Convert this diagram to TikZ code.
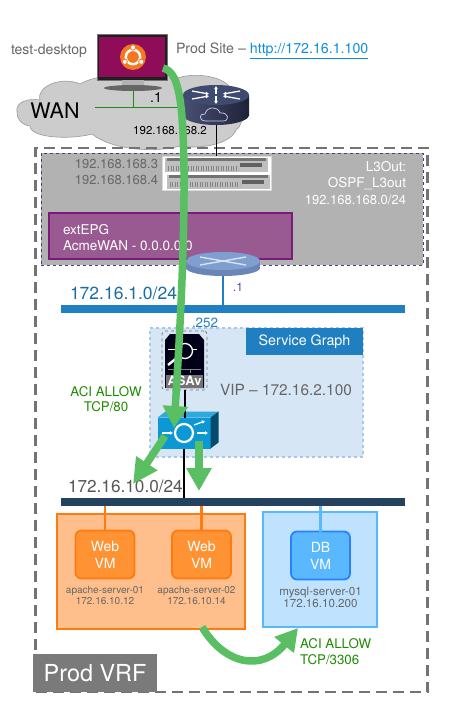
\documentclass[tikz,border=0pt]{standalone}
\usepackage{fontspec}
\setmainfont{TeX Gyre Heros}
\usepackage{xcolor}
\usetikzlibrary{arrows.meta,positioning,calc,shapes.geometric}
\definecolor{flowgreen}{HTML}{5ABF63}
\definecolor{txtgray}{HTML}{666666}
\definecolor{acigreen}{HTML}{1F8A00}
\definecolor{linkgreen}{HTML}{1C8C1C}
\definecolor{netblue}{HTML}{1F7FC0}
\definecolor{netdark}{HTML}{24415F}
\definecolor{lbblue}{HTML}{0B98D4}
\definecolor{webfill}{HTML}{FF9233}
\definecolor{webedge}{HTML}{FF7B10}
\definecolor{webbg}{HTML}{FFBF8C}
\definecolor{dbfill}{HTML}{5AB8FF}
\definecolor{dbedge}{HTML}{2A7FFF}
\definecolor{dbbg}{HTML}{BFE3FF}
\definecolor{svcbg}{HTML}{D6E6F5}
\definecolor{svcedge}{HTML}{A8C8E8}
\definecolor{epgfill}{HTML}{995A92}
\definecolor{epgedge}{HTML}{7A1A7A}
\definecolor{rtrtop}{HTML}{3F4A70}
\definecolor{rtrside}{HTML}{1E2238}
\definecolor{rtrmid}{HTML}{4A5072}
\definecolor{bdtop}{HTML}{7F9FD0}
\definecolor{bdside}{HTML}{6A86B6}
\newcommand{\fsz}[1]{\fontsize{#1}{#1}\selectfont}
\begin{document}
\begin{tikzpicture}[
  x=1pt,y=-1pt,
  every node/.style={inner sep=0pt,outer sep=0pt},
  rect/.style 2 args={rectangle,minimum width=#1pt,minimum height=#2pt},
  lbl/.style={font=\fsz{13},text=txtgray},
  wht/.style={font=\fsz{13.5},text=white},
  vmnode/.style={rectangle,rounded corners=6pt,line width=1.8pt,minimum width=59pt,minimum height=48pt,
    align=center,text=white,font=\fontsize{14}{17}\selectfont},
  vmtxt/.style={align=center,text=txtgray,font=\fontsize{10}{11}\selectfont},
  switchbox/.style={rectangle,fill=black!25,minimum width=103pt,minimum height=14pt},
  flow/.style={draw=flowgreen,line width=7.5pt},
  tip/.style={-{Triangle[length=#1pt,width=24pt]}},
  tick/.style={white,line width=1.3pt,-{Latex[length=3pt,width=4pt]}}
]
\useasboundingbox (0,0) rectangle (454,704);
% wan side
\path[fill=black!20,draw=black!40,line width=.6pt] (17,112) .. controls (15,102) and (28,98) .. (40,100)
  .. controls (36,86) and (62,76) .. (80,84) .. controls (100,72) and (165,68) .. (178,78)
  .. controls (195,72) and (225,76) .. (232,90) .. controls (245,100) and (245,125) .. (236,130)
  .. controls (232,142) and (205,150) .. (180,146) .. controls (160,152) and (115,152) .. (92,134)
  .. controls (70,140) and (30,138) .. (30,126) .. controls (22,125) and (17,120) .. (17,112) -- cycle;
\node[font=\fsz{21.5}] (wan) at (55,111) {WAN};
\node[rect={70}{46},fill=black!88,draw=black!55,line width=.5pt] (desk) at (132,57) {};
\node[rect={66}{40},fill={rgb,255:red,142;green,12;blue,88}] (screen) at (132,57) {};
\fill[black!30] (122,80) rectangle (144,85);
\node[ellipse,minimum width=58pt,minimum height=6pt,fill=black!60] (deskbase) at (133,88) {};
\node[circle,minimum size=26pt,fill={rgb,255:red,245;green,118;blue,31}] (ubuntu) at (133,57) {};
\draw[white,line width=2.4pt] (133,57) circle[radius=7.2pt];
\foreach \a in {90,210,330} \fill[white,draw={rgb,255:red,245;green,118;blue,31},line width=.8pt] ($(ubuntu.center)+(\a:9.5 and -9.5)$) circle[radius=2.6pt];
\node[rect={1}{1}] (wanlink) at (95,107) {};
\node[font=\fsz{14},text=txtgray,anchor=west] (deskname) at (11,51) {test-desktop};
\node[font=\fsz{14.2},text=txtgray,anchor=west,right=9pt of desk,yshift=6pt] (prodsite) {Prod Site -- \textcolor{cyan!75!blue}{\underline{http://172.16.1.100}}};
\node[font=\fsz{14},text=black] (wandot) at (156,98) {.1};
\draw[linkgreen,line width=1pt] (deskbase.south) -- (deskbase.south |- wanlink.center);
\draw[linkgreen,line width=1pt] (wanlink.center) -- (178,107);
\node[rect={66}{20},left color=rtrmid,right color=rtrside] (wanrtr) at (216,105) {};
\node[ellipse,minimum width=66pt,minimum height=20pt,left color=rtrmid,right color=rtrside] (wanrtrb) at (216,115) {};
\node[ellipse,minimum width=66pt,minimum height=20pt,fill=rtrtop] (wanrtrt) at (216,95) {};
\draw[tick] (192,91) -- (209,94);
\draw[tick] (240,91) -- (223,94);
\draw[tick] (192,99) -- (209,96);
\draw[tick] (240,99) -- (223,96);
\draw[tick] (216,94) -- (216,86);
\draw[tick] (216,96) -- (216,104);
\draw[white!80!blue,line width=.7pt] (206,121) .. controls (198,121) and (199,113) .. (205,114)
  .. controls (207,106) and (218,106) .. (220,113) .. controls (229,112) and (230,121) .. (223,121) -- cycle;
\node[font=\fsz{11.5}] (rtrip) at (170,131) {192.168.168.2};
% l3out
\node[rect={382}{112},fill=black!30,draw=black!45!blue!50!gray,dashed,line width=.8pt] (l3out) at (232,209) {};
\node[rect={392}{544},draw=black!55,line width=2.4pt,dash pattern=on 11pt off 6pt] (vrf) at (231.5,420) {};
\node[rect={109}{34},fill=white,draw=black!15,line width=.5pt] (leafs) at (216.5,173) {};
\node[switchbox] (leaf1) at (216.5,165) {};
\node[switchbox] (leaf2) at (218,181.5) {};
\foreach \n in {1,2} {
  \fill[black!55] ($(leaf\n.north west)+(2,0)$) rectangle ($(leaf\n.north east)+(-2,3)$);
  \draw[black!48,line width=5pt,dash pattern=on 1.3pt off 1.2pt] ($(leaf\n.west)+(3,3)$) -- ($(leaf\n.east)+(-30,3)$);
  \fill[black!62] ($(leaf\n.east)+(-28,-2)$) rectangle ($(leaf\n.east)+(-6,2)$);
}
\draw[black,line width=.9pt] (wanrtrb.south) -- (wanrtrb.south |- leafs.north);
\node[lbl,anchor=east] (leafip1) at (158,164) {192.168.168.3};
\node[lbl,below=7pt of leafip1.south east,anchor=north east] (leafip2) {192.168.168.4};
\node[wht,anchor=east,align=right,font=\fontsize{13.5}{16}\selectfont] (l3name) at (406,176) {L3Out:\\OSPF\_L3out};
\node[wht,anchor=east,font=\fsz{13}] (l3net) at (406,200) {192.168.168.0/24};
\node[rect={243}{46},fill=epgfill,draw=epgedge,line width=1.6pt] (extepg) at (170.5,236) {};
\node[wht,anchor=west,align=left,font=\fontsize{13.5}{16}\selectfont] (extname) at (63,238) {extEPG\\AcmeWAN - 0.0.0.0/0};
% fabric
\node[rect={74}{9},fill=bdside] (bdrtr) at (223,264) {};
\node[ellipse,minimum width=74pt,minimum height=16pt,fill=bdside] (bdrtrb) at (223,268) {};
\node[ellipse,minimum width=74pt,minimum height=18pt,fill=bdtop] (bdrtrt) at (223,261) {};
\draw[white!70!bdtop,line width=1.4pt] (200,257) -- (246,265) (200,265) -- (246,257);
\node[rect={344}{8},fill=netblue] (netweb) at (233,309) {};
\draw[netblue,line width=1.8pt] (bdrtrb.south) -- (bdrtrb.south |- netweb.north);
\node[font=\fsz{17.5},text=netblue!85!black,anchor=west] (netwebip) at (70,293) {172.16.1.0/24};
\node[font=\fsz{12},text=blue!40!gray] (bddot) at (238,287) {.1};
\node[rect={213}{129},fill=svcbg,draw=svcedge,dashed,line width=1.2pt] (svc) at (256.5,392.5) {};
\node[rect={117}{27},fill=netblue,text=white,font=\fsz{14.3},anchor=north east] (svchdr) at (svc.north east) {Service Graph};
\node[font=\fsz{13.4},text=netblue,anchor=west] (asaip) at (192,323) {.252};
\node[rect={45}{59},draw=black!55,dashed,line width=.7pt,rounded corners=3pt] (asabox) at (184.5,360.5) {};
\fill[black!90!blue] (170,334) -- (199,334) -- (204,340) -- (204,388) -- (165,388) -- (165,340) -- cycle;
\node[rect={37}{13},fill=black!55,text=white,font=\bfseries\fsz{13}] (asav) at (184.5,381) {ASAv};
\draw[white,line width=.7pt] (168,349) -- (197,349);
\draw[white,line width=1.3pt,fill=black!90!blue] (185,351) circle[radius=7.5pt];
\draw[white,line width=2.4pt] (178,357) -- (168,365);
\draw[black!50,line width=.5pt] (168,369) -- (201,369) (175,369) -- (175,373) (190,369) -- (190,373);
\node[font=\fsz{15.4},text=txtgray] (vip) at (286,390) {VIP -- 172.16.2.100};
\node[font=\fontsize{13.3}{15}\selectfont,text=acigreen,align=center] (allow80) at (106,399) {ACI ALLOW\\TCP/80};
\node[rect={344}{8},fill=netdark] (netdb) at (233,502) {};
\node[rect={53}{31},fill=lbblue] (lb) at (184,433) {};
\fill[lbblue!85!white] (lb.north west) -- ($(lb.north west)+(8,-6)$) -- ($(lb.north east)+(8,-6)$) -- (lb.north east) -- cycle;
\fill[lbblue!50!black] (lb.north east) -- ($(lb.north east)+(8,-6)$) -- ($(lb.south east)+(8,-6)$) -- (lb.south east) -- cycle;
\draw[white,line width=2.2pt] (lb.center) circle[radius=9pt];
\draw[tick] (162,433) -- (173,433);
\draw[tick] (197,433) -- (208,433);
\draw[tick] (194,425) -- (205,421);
\draw[black,line width=2pt] (asabox.south) -- (lb.north -| asabox.south);
\draw[black,line width=2pt] (lb.south) -- (lb.south |- netdb.north);
\node[font=\fsz{17.2},text=txtgray!85!black,anchor=west] (netdbip) at (68,486) {172.16.10.0/24};
% epgs
\node[rect={188}{115},fill=webbg,draw=webedge,line width=1.8pt] (webepg) at (151,571.5) {};
\node[rect={114}{115},fill=dbbg,draw=dbfill,line width=1.8pt] (dbepg) at (320,569.5) {};
\node[vmnode,fill=webfill,draw=webedge] (web1) at (105,554.5) {Web\\VM};
\node[vmnode,fill=webfill,draw=webedge,right=37.5pt of web1] (web2) {Web\\VM};
\node[vmnode,fill=dbfill,draw=dbedge] (db) at (320.5,555.5) {DB\\VM};
\draw[webedge,line width=2.2pt] (web1.north) -- (web1.north |- netdb.south);
\draw[webedge,line width=2.2pt] (web2.north) -- (web2.north |- netdb.south);
\draw[dbfill,line width=2.2pt] (db.north) -- (db.north |- netdb.south);
\node[vmtxt,below=8pt of web1] (web1txt) {apache-server-01\\172.16.10.12};
\node[vmtxt,below=8pt of web2,xshift=-5pt] (web2txt) {apache-server-02\\172.16.10.14};
\node[vmtxt,below=8pt of db,font=\fontsize{11.6}{11.5}\selectfont] (dbtxt) {mysql-server-01\\172.16.10.200};
\node[rect={124}{38},fill=black!52,text=white,font=\fsz{23.4}] (prodvrf) at (95,673) {Prod VRF};
\node[font=\fontsize{13.3}{16}\selectfont,text=acigreen,align=left,anchor=west] (allow3306) at (300,652) {ACI ALLOW\\TCP/3306};
% flows
\coordinate (flowa) at (163,68);
\coordinate (flowb) at (174,428);
\coordinate (flowc) at (165,436);
\coordinate (flowd) at (133,484);
\coordinate (flowe) at (199,441);
\coordinate (flowf) at (199,491);
\coordinate (flowg) at (202,627);
\coordinate (flowh) at (298,628);
\draw[flow,tip=22] (flowa) .. controls (178,72) and (183,95) .. (184,170) .. controls (184.5,250) and (180,330) .. (flowb);
\draw[flow,tip=25] (flowc) -- (flowd);
\draw[flow,tip=23] (flowe) -- (flowf);
\draw[flow,tip=22] (flowg) .. controls (225,665) and (262,672) .. (flowh);
\end{tikzpicture}
\end{document}
